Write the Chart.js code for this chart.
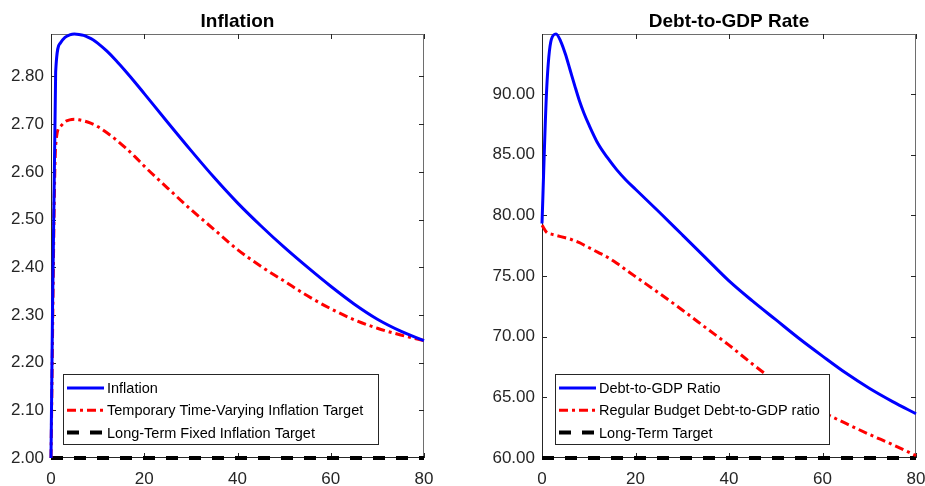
<!DOCTYPE html>
<html>
<head>
<meta charset="utf-8">
<script src="https://cdn.jsdelivr.net/npm/chart.js@4.4.1/dist/chart.umd.min.js"></script>
<style>
  html, body { margin: 0; padding: 0; background: #fff; overflow: hidden; }
  body { width: 925px; height: 486px; position: relative; }
  .panel { position: absolute; top: 0; height: 486px; }
</style>
</head>
<body>
<div class="panel" style="left:0;width:462px"><canvas id="inflChart" width="462" height="486"></canvas></div>
<div class="panel" style="left:462px;width:483px"><canvas id="debtChart" width="483" height="486"></canvas></div>

<script>
// ---------------- DATA ----------------

const periods = [0, 1, 2, 3, 4, 5, 6, 7, 8, 9, 10, 12, 14, 16, 18, 20, 25, 30, 35, 40, 45, 50, 55, 60, 65, 70, 75, 80];
const targetPeriods = [0, 80];

// left panel
const inflation = [2.00, 2.81, 2.870, 2.882, 2.887, 2.889, 2.888, 2.886, 2.882, 2.877, 2.870, 2.853, 2.833, 2.811, 2.788, 2.764, 2.704, 2.645, 2.588, 2.535, 2.487, 2.442, 2.400, 2.360, 2.323, 2.291, 2.266, 2.246];
const inflationTarget = [2.00, 2.655, 2.695, 2.705, 2.709, 2.710, 2.709, 2.707, 2.704, 2.700, 2.695, 2.682, 2.667, 2.650, 2.632, 2.612, 2.566, 2.521, 2.479, 2.437, 2.402, 2.371, 2.340, 2.313, 2.290, 2.272, 2.258, 2.246];
const inflationLongTerm = [2.00, 2.00];

// right panel
const debtRatio = [79.33, 90.4, 94.5, 94.95, 94.35, 93.3, 92.0, 90.7, 89.45, 88.4, 87.5, 85.9, 84.75, 83.75, 82.9, 82.15, 80.3, 78.4, 76.5, 74.6, 72.95, 71.4, 69.85, 68.4, 67.0, 65.75, 64.65, 63.65];
const debtRegular = [79.2, 78.6, 78.45, 78.35, 78.25, 78.15, 78.05, 77.9, 77.75, 77.55, 77.35, 76.95, 76.55, 76.05, 75.5, 74.95, 73.6, 72.2, 70.75, 69.3, 67.75, 66.3, 65.0, 63.8, 62.85, 61.95, 61.1, 60.2];
const debtLongTerm = [60.00, 60.00];

const xTicks = [0, 20, 40, 60, 80];
const inflTicks = [2.0, 2.1, 2.2, 2.3, 2.4, 2.5, 2.6, 2.7, 2.8];
const debtTicks = [60, 65, 70, 75, 80, 85, 90];

const FONT = "'Liberation Sans', Arial, Helvetica, sans-serif";
const AXIS = '#262626';

function pts(xs, ys) {
  return xs.map((x, i) => ({ x: x, y: ys[i] }));
}

// -------- PLUGINS --------

// matlab style box + inward ticks, title, legend
const framePlugin = {
  id: 'frame',
  beforeDatasetsDraw(chart, args, opts) {
    const { ctx, chartArea: a, scales } = chart;
    const len = 5;
    ctx.save();
    ctx.lineWidth = 1;
    ctx.strokeStyle = '#6e6e6e';
    ctx.beginPath();
    ctx.moveTo(a.left, a.top + 0.5); ctx.lineTo(a.right, a.top + 0.5);
    ctx.moveTo(a.right - 0.5, a.top); ctx.lineTo(a.right - 0.5, a.bottom);
    ctx.stroke();
    ctx.strokeStyle = AXIS;
    ctx.beginPath();
    ctx.moveTo(a.left + 0.5, a.top); ctx.lineTo(a.left + 0.5, a.bottom);
    ctx.moveTo(a.left, a.bottom - 0.5); ctx.lineTo(a.right, a.bottom - 0.5);
    ctx.stroke();

    ctx.beginPath();
    opts.yTicks.forEach(v => {
      const y = Math.round(scales.y.getPixelForValue(v)) + 0.5;
      ctx.moveTo(a.left, y); ctx.lineTo(a.left + len, y);
      ctx.moveTo(a.right, y); ctx.lineTo(a.right - len, y);
    });
    opts.xTicks.forEach(v => {
      const x = Math.round(scales.x.getPixelForValue(v)) + 0.5;
      ctx.moveTo(x, a.bottom); ctx.lineTo(x, a.bottom - len);
      ctx.moveTo(x, a.top); ctx.lineTo(x, a.top + len);
    });
    ctx.stroke();

    // title
    ctx.fillStyle = '#000';
    ctx.font = 'bold 19px ' + FONT;
    ctx.textAlign = 'center';
    ctx.textBaseline = 'alphabetic';
    ctx.fillText(opts.title, (a.left + a.right) / 2, 27);
    ctx.restore();
  },
  afterDatasetsDraw(chart, args, opts) {
    const { ctx } = chart;
    const b = opts.box;
    ctx.save();
    ctx.fillStyle = '#fff';
    ctx.fillRect(b.x, b.y, b.w, b.h);
    ctx.strokeStyle = AXIS;
    ctx.lineWidth = 1;
    ctx.strokeRect(b.x + 0.5, b.y + 0.5, b.w, b.h);
    ctx.font = '14.5px ' + FONT;
    ctx.textBaseline = 'middle';
    ctx.textAlign = 'left';
    chart.data.datasets.forEach((ds, i) => {
      const y = b.y + 14 + i * 22.3;
      ctx.beginPath();
      ctx.strokeStyle = ds.borderColor;
      ctx.lineWidth = ds.borderWidth;
      ctx.setLineDash(ds.borderDash || []);
      ctx.moveTo(b.x + 4, y);
      ctx.lineTo(b.x + 41, y);
      ctx.stroke();
      ctx.setLineDash([]);
      ctx.fillStyle = '#000';
      ctx.fillText(ds.label, b.x + 44, y + 1);
    });
    ctx.restore();
  }
};

function makeChart(id, cfg) {
  const sets = cfg.series.map(s => ({
    label: s.label,
    data: pts(s.x, s.y),
    borderColor: s.color,
    borderWidth: s.width,
    borderDash: s.dash,
    pointRadius: 0,
    fill: false,
    cubicInterpolationMode: 'monotone',
    clip: false
  }));

  return new Chart(document.getElementById(id), {
    type: 'line',
    data: { datasets: sets },
    options: {
      responsive: false,
      animation: false,
      layout: { padding: { top: 34, right: cfg.padRight, left: 0, bottom: 0 } },
      plugins: {
        legend: { display: false },
        tooltip: { enabled: false },
        frame: { title: cfg.title, box: cfg.box, xTicks: xTicks, yTicks: cfg.yTicks }
      },
      scales: {
        x: {
          type: 'linear',
          min: 0, max: 80,
          grid: { display: false },
          border: { display: false },
          ticks: {
            stepSize: 20, autoSkip: false, maxRotation: 0,
            padding: 3, color: AXIS,
            font: { family: FONT, size: 17 }
          },
          afterFit(scale) {
            scale.height = 28;
            scale.paddingLeft = 0;
            scale.paddingRight = 0;
          }
        },
        y: {
          min: cfg.yMin, max: cfg.yMax,
          grid: { display: false, drawTicks: false },
          border: { display: false },
          ticks: {
            stepSize: cfg.yStep, includeBounds: false, autoSkip: false,
            padding: 7, color: AXIS,
            font: { family: FONT, size: 17 },
            callback: v => v.toFixed(2)
          },
          afterFit(scale) {
            scale.width = cfg.yWidth;
            scale.paddingTop = 0;
            scale.paddingBottom = 0;
          }
        }
      }
    },
    plugins: [framePlugin]
  });
}

makeChart('inflChart', {
  title: 'Inflation',
  yMin: 2.0, yMax: 2.889, yStep: 0.1, yTicks: inflTicks,
  yWidth: 51, padRight: 38,
  box: { x: 63, y: 374, w: 315, h: 70 },
  series: [
    { label: 'Inflation', x: periods, y: inflation, color: '#0000ff', width: 3 },
    { label: 'Temporary Time-Varying Inflation Target', x: periods, y: inflationTarget, color: '#ff0000', width: 3, dash: [9, 4, 3, 4] },
    { label: 'Long-Term Fixed Inflation Target', x: targetPeriods, y: inflationLongTerm, color: '#000000', width: 4, dash: [12, 11] }
  ]
});

makeChart('debtChart', {
  title: 'Debt-to-GDP Rate',
  yMin: 60, yMax: 94.95, yStep: 5, yTicks: debtTicks,
  yWidth: 80, padRight: 29,
  box: { x: 93, y: 374, w: 274, h: 70 },
  series: [
    { label: 'Debt-to-GDP Ratio', x: periods, y: debtRatio, color: '#0000ff', width: 3 },
    { label: 'Regular Budget Debt-to-GDP ratio', x: periods, y: debtRegular, color: '#ff0000', width: 3, dash: [9, 4, 3, 4] },
    { label: 'Long-Term Target', x: targetPeriods, y: debtLongTerm, color: '#000000', width: 4, dash: [12, 11] }
  ]
});
</script>
</body>
</html>
